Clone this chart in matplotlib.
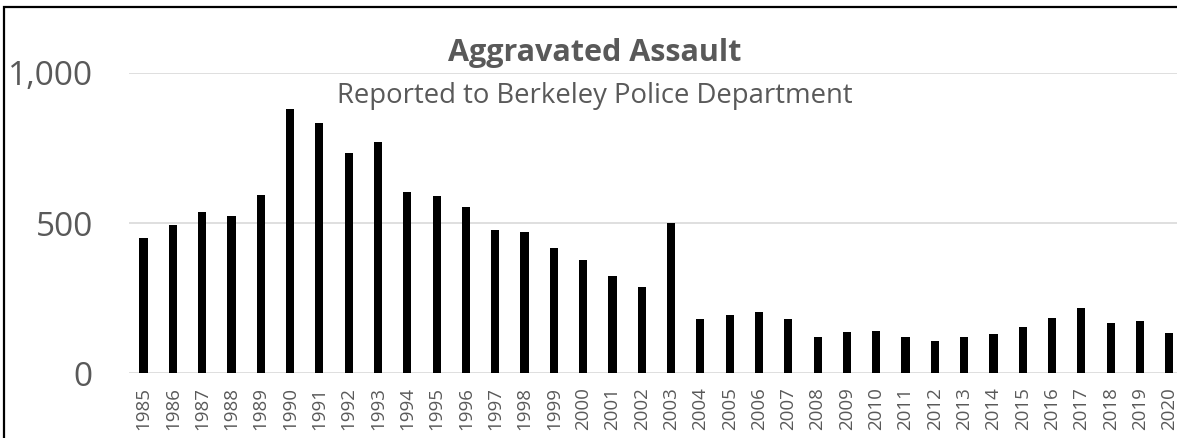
import numpy as np
import matplotlib.pyplot as plt
from matplotlib.patches import Rectangle

years = [str(y) for y in range(1985, 2021)]
assaults = [450, 493, 537, 522, 593, 880, 832, 732, 771, 603,
            590, 554, 477, 471, 416, 376, 324, 287, 501, 181,
            195, 205, 180, 122, 137, 140, 122, 107, 122, 131,
            154, 184, 217, 167, 175, 135]
y_ticks = [0, 500, 1000]
y_tick_labels = ["0", "500", "1,000"]

grey = "#595959"
plt.rcParams['font.family'] = ['Open Sans', 'DejaVu Sans']

fig = plt.figure(figsize=(11.77, 4.38), dpi=100)
ax = fig.add_axes([0.1095, 0.1477, 0.8964, 0.6863])

x = np.arange(len(years))
ax.bar(x, assaults, width=0.28, color="black", zorder=3)

ax.set_xlim(-0.5, len(years) - 0.5)
ax.set_ylim(0, 1000)
ax.set_yticks(y_ticks)
ax.set_yticklabels(y_tick_labels, fontsize=24, color=grey)
ax.set_xticks(x)
ax.set_xticklabels(years, rotation=90, fontsize=13.5, color=grey)
ax.tick_params(axis="y", length=0, pad=26)
ax.tick_params(axis="x", length=0, pad=10)
ax.yaxis.grid(True, color="#d9d9d9", lw=1.2, zorder=0)
ax.set_axisbelow(True)
for s in ax.spines.values():
    s.set_visible(False)

fig.text(0.505, 0.879, "Aggravated Assault", ha="center", va="center",
         fontsize=22, fontweight="bold", color=grey)
fig.text(0.505, 0.781, "Reported to Berkeley Police Department", ha="center",
         va="center", fontsize=19.8, color=grey)

# chart frame (cropped on right and bottom)
fig.patches.append(Rectangle((4 / 1177, -0.1), 1.2, 1.1 - 7 / 438,
                             transform=fig.transFigure, fill=False,
                             edgecolor="black", lw=1.6))

fig.savefig("out.png", dpi=100)
